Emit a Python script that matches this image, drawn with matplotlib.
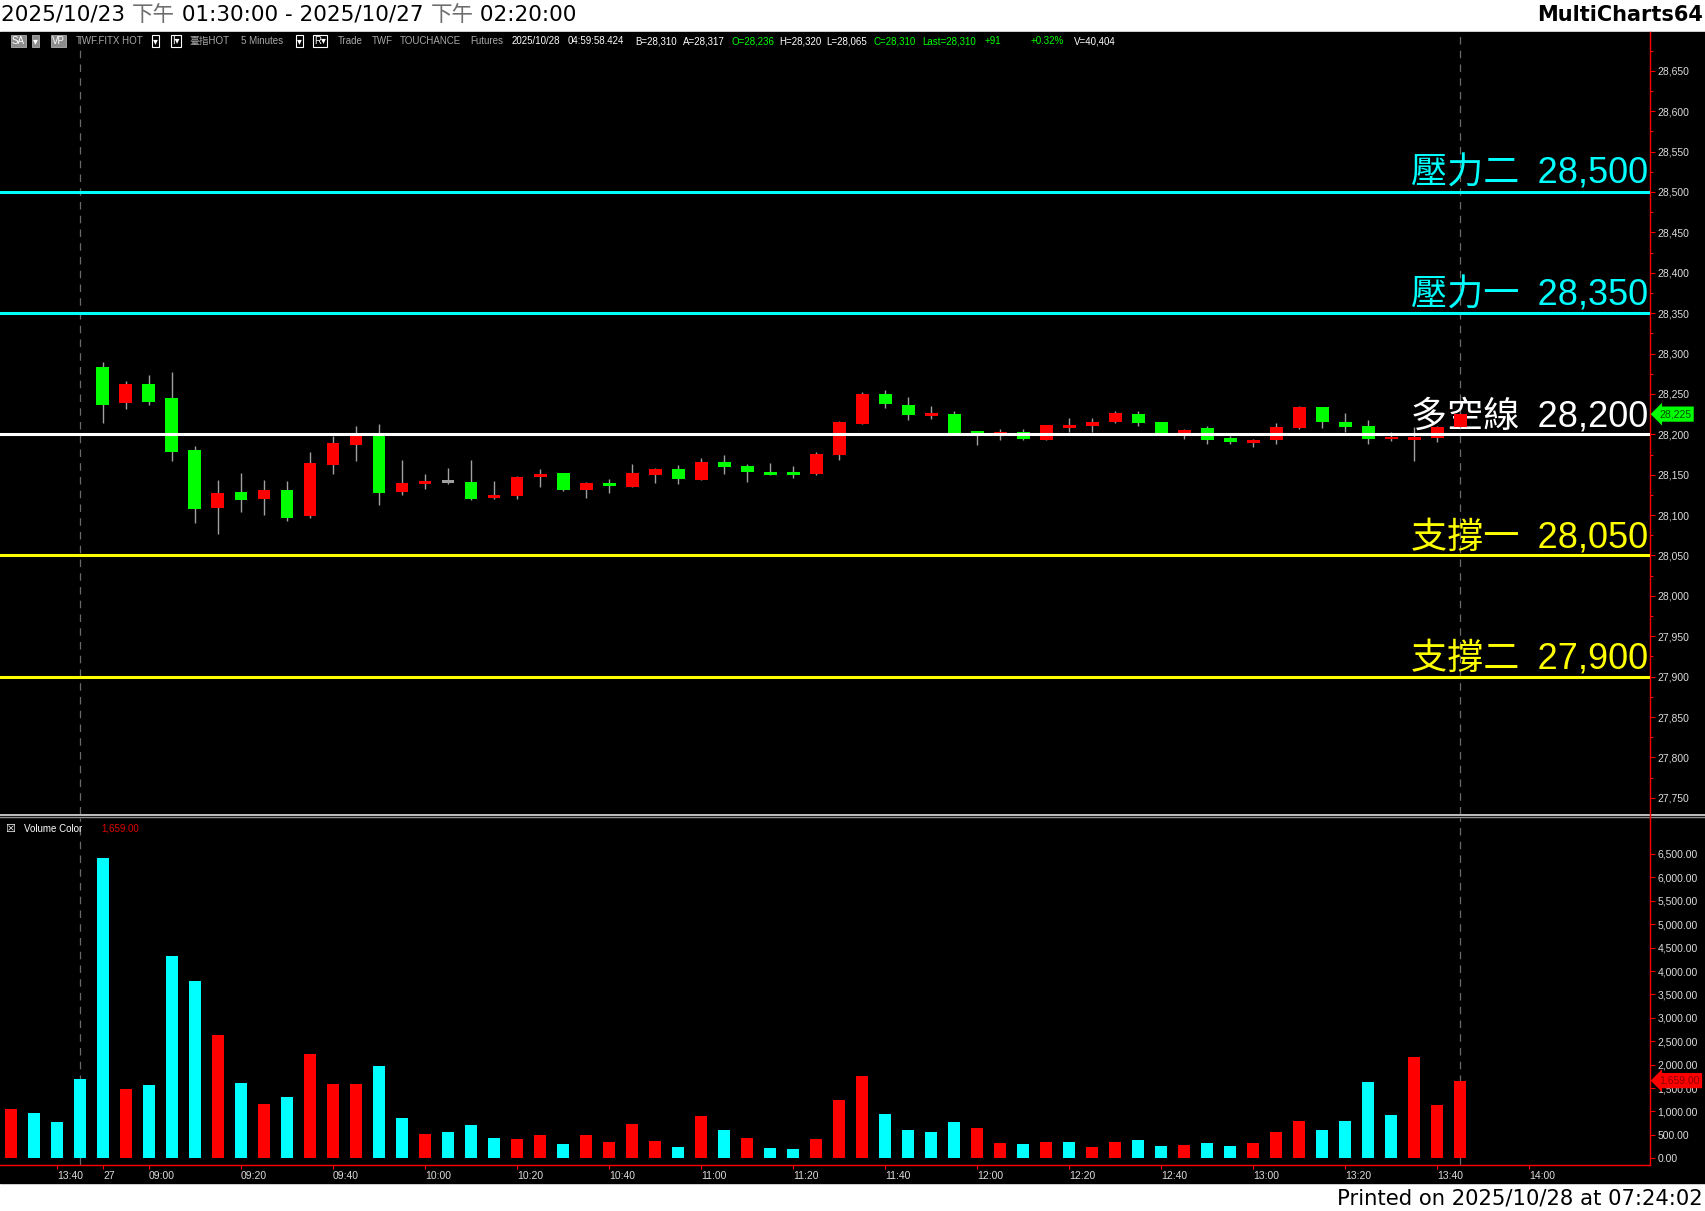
import numpy as np
import matplotlib
matplotlib.use("Agg")
import matplotlib.pyplot as plt
import matplotlib.transforms as mtransforms
from matplotlib.lines import Line2D
from matplotlib.patches import Rectangle
from matplotlib.ticker import FuncFormatter, MultipleLocator, FixedLocator

# ---------------- data ----------------
session1_times = ["13:30", "13:35", "13:40", "13:45"]          # 2025/10/23
session2_first, session2_last = "08:50", "13:45"               # 2025/10/27

nan = np.nan
opens = [nan] * 4 + [
    28283, 28239, 28262, 28245, 28180, 28109, 28128, 28120, 28131, 28099,
    28162, 28187, 28202, 28128, 28138, 28142, 28141, 28121, 28124, 28147,
    28152, 28131, 28140, 28135, 28150, 28157, 28143, 28166, 28161, 28153,
    28152, 28151, 28174, 28213, 28250, 28236, 28224, 28225, 28204, 28199,
    28203, 28193, 28209, 28210, 28215, 28225, 28215, 28202, 28208, 28195,
    28189, 28193, 28208, 28234, 28215, 28210, 28194, 28193, 28196, 28209]
highs = [nan] * 4 + [
    28290, 28266, 28273, 28277, 28185, 28143, 28152, 28143, 28142, 28178,
    28198, 28210, 28213, 28168, 28151, 28158, 28168, 28142, 28148, 28157,
    28152, 28141, 28145, 28163, 28158, 28162, 28171, 28174, 28163, 28164,
    28161, 28178, 28216, 28252, 28255, 28246, 28235, 28229, 28204, 28206,
    28206, 28211, 28220, 28220, 28229, 28229, 28215, 28206, 28210, 28198,
    28194, 28214, 28235, 28234, 28226, 28218, 28203, 28209, 28210, 28226]
lows = [nan] * 4 + [
    28214, 28231, 28236, 28167, 28090, 28076, 28104, 28100, 28093, 28097,
    28151, 28167, 28112, 28125, 28132, 28138, 28119, 28120, 28120, 28135,
    28130, 28121, 28127, 28135, 28140, 28138, 28143, 28151, 28141, 28150,
    28146, 28150, 28168, 28213, 28232, 28218, 28219, 28200, 28187, 28193,
    28193, 28193, 28203, 28203, 28214, 28210, 28200, 28194, 28188, 28188,
    28184, 28188, 28206, 28208, 28203, 28188, 28192, 28167, 28190, 28208]
closes = [nan] * 4 + [
    28236, 28262, 28240, 28178, 28107, 28127, 28119, 28131, 28097, 28164,
    28189, 28199, 28127, 28140, 28142, 28142, 28120, 28125, 28147, 28151,
    28131, 28140, 28136, 28152, 28157, 28145, 28166, 28159, 28153, 28150,
    28151, 28176, 28215, 28250, 28237, 28224, 28225, 28201, 28200, 28203,
    28194, 28211, 28210, 28215, 28226, 28214, 28201, 28205, 28193, 28190,
    28193, 28209, 28234, 28215, 28209, 28194, 28197, 28197, 28209, 28225]

volumes = [
    1053, 967, 775, 1694, 6414, 1480, 1566, 4321, 3787, 2633,
    1609, 1160, 1309, 2228, 1587, 1587, 1971, 861, 519, 562,
    711, 434, 412, 498, 305, 498, 348, 733, 370, 241,
    903, 604, 434, 220, 199, 412, 1245, 1758, 946, 604,
    562, 775, 647, 327, 305, 348, 348, 241, 348, 391,
    263, 284, 327, 263, 327, 562, 797, 604, 797, 1630,
    925, 2164, 1138, 1659]
volume_dir = list(
    "uddddudddu" "duduuuddud" "dduuduuuud" "ududduuudd"
    "dduududuud" "dudduuuddd" "duuu")

level_values = [28500, 28350, 28200, 28050, 27900]
level_names = ["壓力二", "壓力一", "多空線", "支撐一", "支撐二"]

x_tick_labels = ["13:40", "27", "09:00", "09:20", "09:40", "10:00", "10:20",
                 "10:40", "11:00", "11:20", "11:40", "12:00", "12:20",
                 "12:40", "13:00", "13:20", "13:40", "14:00"]
last_price = 28225
last_volume = 1659.00

header_parts = ["2025/10/23 ", "下午", " 01:30:00 - 2025/10/27 ", "下午", " 02:20:00"]
header_right = "MultiCharts64"
footer = "Printed on 2025/10/28 at 07:24:02"

# ---------------- helpers ----------------
def to_min(t):
    hh, mm = t.split(":")
    return int(hh) * 60 + int(mm)

n1 = len(session1_times)
n2 = (to_min(session2_last) - to_min(session2_first)) // 5 + 1
n_bars = n1 + n2
xs = np.arange(n_bars)

def bar_pos(label, session):
    if session == 1:
        return session1_times.index(label)
    if label == "27":
        return n1
    return n1 + (to_min(label) - to_min(session2_first)) / 5

tick_pos = [bar_pos(x_tick_labels[0], 1)] + [bar_pos(t, 2) for t in x_tick_labels[1:]]
session_ends = [n1 - 1, n_bars - 1]

W, H, DPI = 1705, 1211, 100
fig = plt.figure(figsize=(W / DPI, H / DPI), dpi=DPI, facecolor="white")

def fx(px):
    return px / W

def fy(py):
    return 1 - py / H

# black chart background
fig.patches.append(Rectangle((0, fy(1183)), 1, fy(32) - fy(1183),
                             transform=fig.transFigure, color="black", zorder=-10))

RED = "#ff0000"
GRN = "#00ff00"
CYAN = "#00ffff"
YEL = "#ffff00"
LBL = "#dcdcdc"
AX_RIGHT = 1650

ax = fig.add_axes([0, fy(814), fx(AX_RIGHT), fy(32) - fy(814)])
axv = fig.add_axes([0, fy(1165), fx(AX_RIGHT), fy(818) - fy(1165)])

x_left, x_right = -0.478, 71.26
for a in (ax, axv):
    a.set_facecolor("black")
    a.set_xlim(x_left, x_right)
    for s in ("top", "left"):
        a.spines[s].set_visible(False)
    a.spines["right"].set_color(RED)
    a.spines["right"].set_linewidth(1.0)
    a.yaxis.tick_right()
    a.tick_params(axis="y", which="both", colors=RED, labelcolor=LBL,
                  labelsize=7.5, direction="out", pad=2)
    a.tick_params(axis="y", which="major", length=3.5, width=0.8)
    a.tick_params(axis="y", which="minor", length=2, width=0.8)

ax.spines["bottom"].set_visible(False)
ax.set_xticks([])
axv.spines["bottom"].set_color(RED)
axv.spines["bottom"].set_linewidth(1.0)

# ---------------- price pane ----------------
ax.set_ylim(27730, 28698)
ax.yaxis.set_major_locator(MultipleLocator(50))
ax.yaxis.set_minor_locator(MultipleLocator(25))
ax.yaxis.set_major_formatter(FuncFormatter(lambda v, p: f"{int(round(v)):,}"))

o = np.array(opens, float)
hi = np.array(highs, float)
lo = np.array(lows, float)
c = np.array(closes, float)
valid = ~np.isnan(o)
body_col = np.where(c > o, RED, np.where(c < o, GRN, "#a0a0a0"))

MIN_BODY = 3.5
ax.vlines(xs[valid], lo[valid], hi[valid], color="#a0a0a0", lw=1.0, zorder=3)
diff = np.abs(c - o)
body_h = np.maximum(diff, MIN_BODY)
body_b = np.minimum(o, c) - np.where(diff < MIN_BODY, (MIN_BODY - diff) / 2, 0)
ax.bar(xs[valid], body_h[valid], bottom=body_b[valid], width=0.565,
       color=list(body_col[valid]), linewidth=0, zorder=4)

level_colors = [CYAN, CYAN, "white", YEL, YEL]
for val, name, col in zip(level_values, level_names, level_colors):
    ax.axhline(val, color=col, lw=2.2, zorder=5)
    ax.annotate(f"{name}\u2002{val:,}", xy=(1, val),
                xycoords=("axes fraction", "data"),
                xytext=(-1.5, 5.8), textcoords="offset points", ha="right",
                va="baseline", fontsize=26, color=col, zorder=2,
                family=["Liberation Sans", "Noto Sans CJK TC"])

for se in session_ends:
    for a in (ax, axv):
        a.axvline(se, color="#6a6a6a", lw=0.9, ls=(0, (6, 5)), zorder=1)

trans_p = mtransforms.offset_copy(
    mtransforms.blended_transform_factory(ax.transAxes, ax.transData),
    fig=fig, x=9, y=0, units="dots")
ax.text(1.0, last_price, f"{last_price:,}", transform=trans_p, ha="left",
        va="center", fontsize=7.5, color="#004d00", family="Liberation Sans",
        bbox=dict(boxstyle="larrow,pad=0.25", fc=GRN, ec="none"), zorder=10,
        clip_on=False)

# ---------------- volume pane ----------------
axv.set_ylim(-143, 7268)
axv.yaxis.set_major_locator(FixedLocator(np.arange(0, 6501, 500)))
axv.yaxis.set_major_formatter(FuncFormatter(lambda v, p: f"{v:,.2f}"))
vcols = [RED if d == "u" else CYAN for d in volume_dir]
axv.bar(xs, volumes, width=0.48, color=vcols, linewidth=0, zorder=3)

axv.set_xticks(tick_pos)
axv.set_xticklabels(x_tick_labels)
axv.tick_params(axis="x", colors=RED, labelcolor=LBL, labelsize=7.5,
                length=3, width=0.8, direction="out", pad=1)
for a in (ax, axv):
    for lab in a.get_yticklabels() + a.get_xticklabels():
        lab.set_family("Liberation Sans")
for lab in axv.get_xticklabels():
    lab.set_ha("left")

trans_v = mtransforms.offset_copy(
    mtransforms.blended_transform_factory(axv.transAxes, axv.transData),
    fig=fig, x=9, y=0, units="dots")
axv.text(1.0, last_volume, f"{last_volume:,.2f}", transform=trans_v, ha="left",
         va="center", fontsize=7.5, color="#8b0000", family="Liberation Sans",
         bbox=dict(boxstyle="larrow,pad=0.25", fc=RED, ec="none"), zorder=10,
         clip_on=False)

fig.text(fx(5), fy(828.5), "☒", color="white", fontsize=8, va="center",
         family="DejaVu Sans")
fig.text(fx(24), fy(828.5), "Volume Color", color="white", fontsize=7,
         va="center", family="Liberation Sans")
fig.text(fx(101), fy(828.5), f"{last_volume:,.2f}", color="#e00000",
         fontsize=7, va="center", family="Liberation Sans")

# pane separator and axis join
fig.lines.append(Line2D([0, 1], [fy(815), fy(815)], transform=fig.transFigure,
                        color="#e0e0e0", lw=1.2))
fig.lines.append(Line2D([0, 1], [fy(817), fy(817)], transform=fig.transFigure,
                        color="#909090", lw=1.0))
fig.lines.append(Line2D([fx(AX_RIGHT), fx(AX_RIGHT)], [fy(814), fy(818)],
                        transform=fig.transFigure, color=RED, lw=1.0))

# ---------------- header / toolbar / footer ----------------
hfam = ["DejaVu Sans", "Noto Sans CJK TC"]
renderer = fig.canvas.get_renderer()
hx = fx(1)
for part in header_parts:
    col = "#6e6e6e" if part == "下午" else "black"
    t = fig.text(hx, fy(21), part, fontsize=15.5, color=col, va="baseline",
                 family=hfam)
    bb = t.get_window_extent(renderer=renderer)
    hx += bb.width / W
fig.text(fx(1703), fy(21), header_right, fontsize=15, color="black",
         fontweight="bold", ha="right", va="baseline", family="DejaVu Sans")
fig.text(fx(1703), fy(1205), footer, fontsize=15.2, color="black",
         ha="right", va="baseline", family="DejaVu Sans")

tb_y = fy(41)
tfam = ["Liberation Sans", "Noto Sans CJK TC"]
GRY = "#a8a8a8"
boxes = [(12, "SA", "#8c8c8c"), (33, "▾", "#8c8c8c"), (52, "VP", "#8c8c8c")]
for x0, s, fc in boxes:
    fig.text(fx(x0), tb_y, s, fontsize=7, color="white", va="center",
             family=["Liberation Sans", "DejaVu Sans"],
             bbox=dict(boxstyle="square,pad=0.15", fc=fc, ec="#b0b0b0", lw=0.6))
for x0, s in [(153, "▾"), (172, "I▾"), (297, "▾"), (314, "R▾")]:
    fig.text(fx(x0), tb_y, s, fontsize=7, color="white", va="center",
             family=["Liberation Sans", "DejaVu Sans"],
             bbox=dict(boxstyle="square,pad=0.15", fc="black", ec="white", lw=0.8))
segments = [
    (76, "TWF.FITX HOT", GRY), (189, "臺指HOT", GRY), (241, "5 Minutes", GRY),
    (338, "Trade", GRY), (372, "TWF", GRY), (400, "TOUCHANCE", GRY),
    (470, "Futures", GRY), (512, "2025/10/28", "white"),
    (568, "04:59:58.424", "white"), (635, "B=28,310", "white"),
    (683, "A=28,317", "white"), (731, "O=28,236", GRN),
    (779, "H=28,320", "white"), (826, "L=28,065", "white"),
    (874, "C=28,310", GRN), (922, "Last=28,310", GRN), (985, "+91", GRN),
    (1031, "+0.32%", GRN), (1074, "V=40,404", "white")]
for x0, s, col in segments:
    fig.text(fx(x0), tb_y, s, fontsize=7, color=col, va="center", family=tfam)

fig.savefig("out.png", dpi=DPI, facecolor="white")
